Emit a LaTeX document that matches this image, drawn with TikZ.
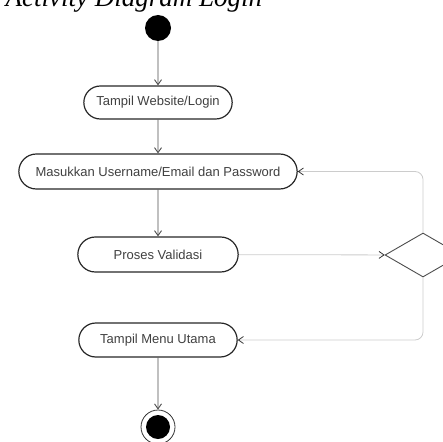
\documentclass[tikz,border=0pt]{standalone}
\usepackage{fontspec}
\setmainfont{Liberation Serif}
\newfontfamily\boxfont{Liberation Sans}
\usetikzlibrary{arrows.meta,positioning,shapes.misc,shapes.geometric}

\begin{document}
\begin{tikzpicture}[x=1pt,y=1pt,
  activity/.style={draw=black!85, line width=1.2pt, rounded rectangle, minimum height=33pt,
    font=\boxfont\fontsize{13}{15}\selectfont, text=black!75},
  flow/.style={black!70, line width=0.9pt, -{Straight Barb[length=5pt,width=7pt]}},
  faint/.style={black!20, line width=0.8pt, -{Straight Barb[length=5pt,width=7pt,color=black!80]}}]
	\useasboundingbox (0,-441) rectangle (443,0);
	\clip (0,-441) rectangle (443,0);
	
	\node[anchor=base west, font=\itshape\fontsize{27}{30}\selectfont] (judul) at (2,-7) {Activity Diagram Login};
	
	\node[circle, fill=black, minimum size=26pt, inner sep=0pt] (mulai) at (158,-28) {};
	\node[activity, minimum width=155pt] (tampil) at (158,-102.5) {Tampil Website/Login};
	\node[activity, minimum width=285pt, minimum height=35pt] (masuk) at (158,-171.5) {Masukkan Username/Email dan Password};
	\node[activity, minimum width=167pt, minimum height=35pt] (proses) at (158,-254.5) {Proses Validasi};
	\node[activity, minimum width=165pt, minimum height=34pt] (menu) at (158,-340) {Tampil Menu Utama};
	\node[diamond, draw=black!70, line width=0.9pt, minimum width=76pt, minimum height=44pt, inner sep=0pt] (cek) at (423,-255) {};
	\node[circle, draw=black!80, line width=0.8pt, minimum size=34pt, inner sep=0pt] (selesai) at (158,-427) {};
	\node[circle, fill=black, minimum size=24pt, inner sep=0pt] at (selesai) {};
	
	\draw[flow] (mulai) -- (tampil);
	\draw[flow] (tampil) -- (masuk);
	\draw[flow] (masuk) -- (proses);
	\draw[faint] (proses) -- (cek);
	\draw[faint, rounded corners=8pt] (cek.north) |- (masuk.east);
	\draw[faint, rounded corners=8pt] (cek.south) |- (menu.east);
	\draw[flow] (menu) -- (selesai);
\end{tikzpicture}
\end{document}
